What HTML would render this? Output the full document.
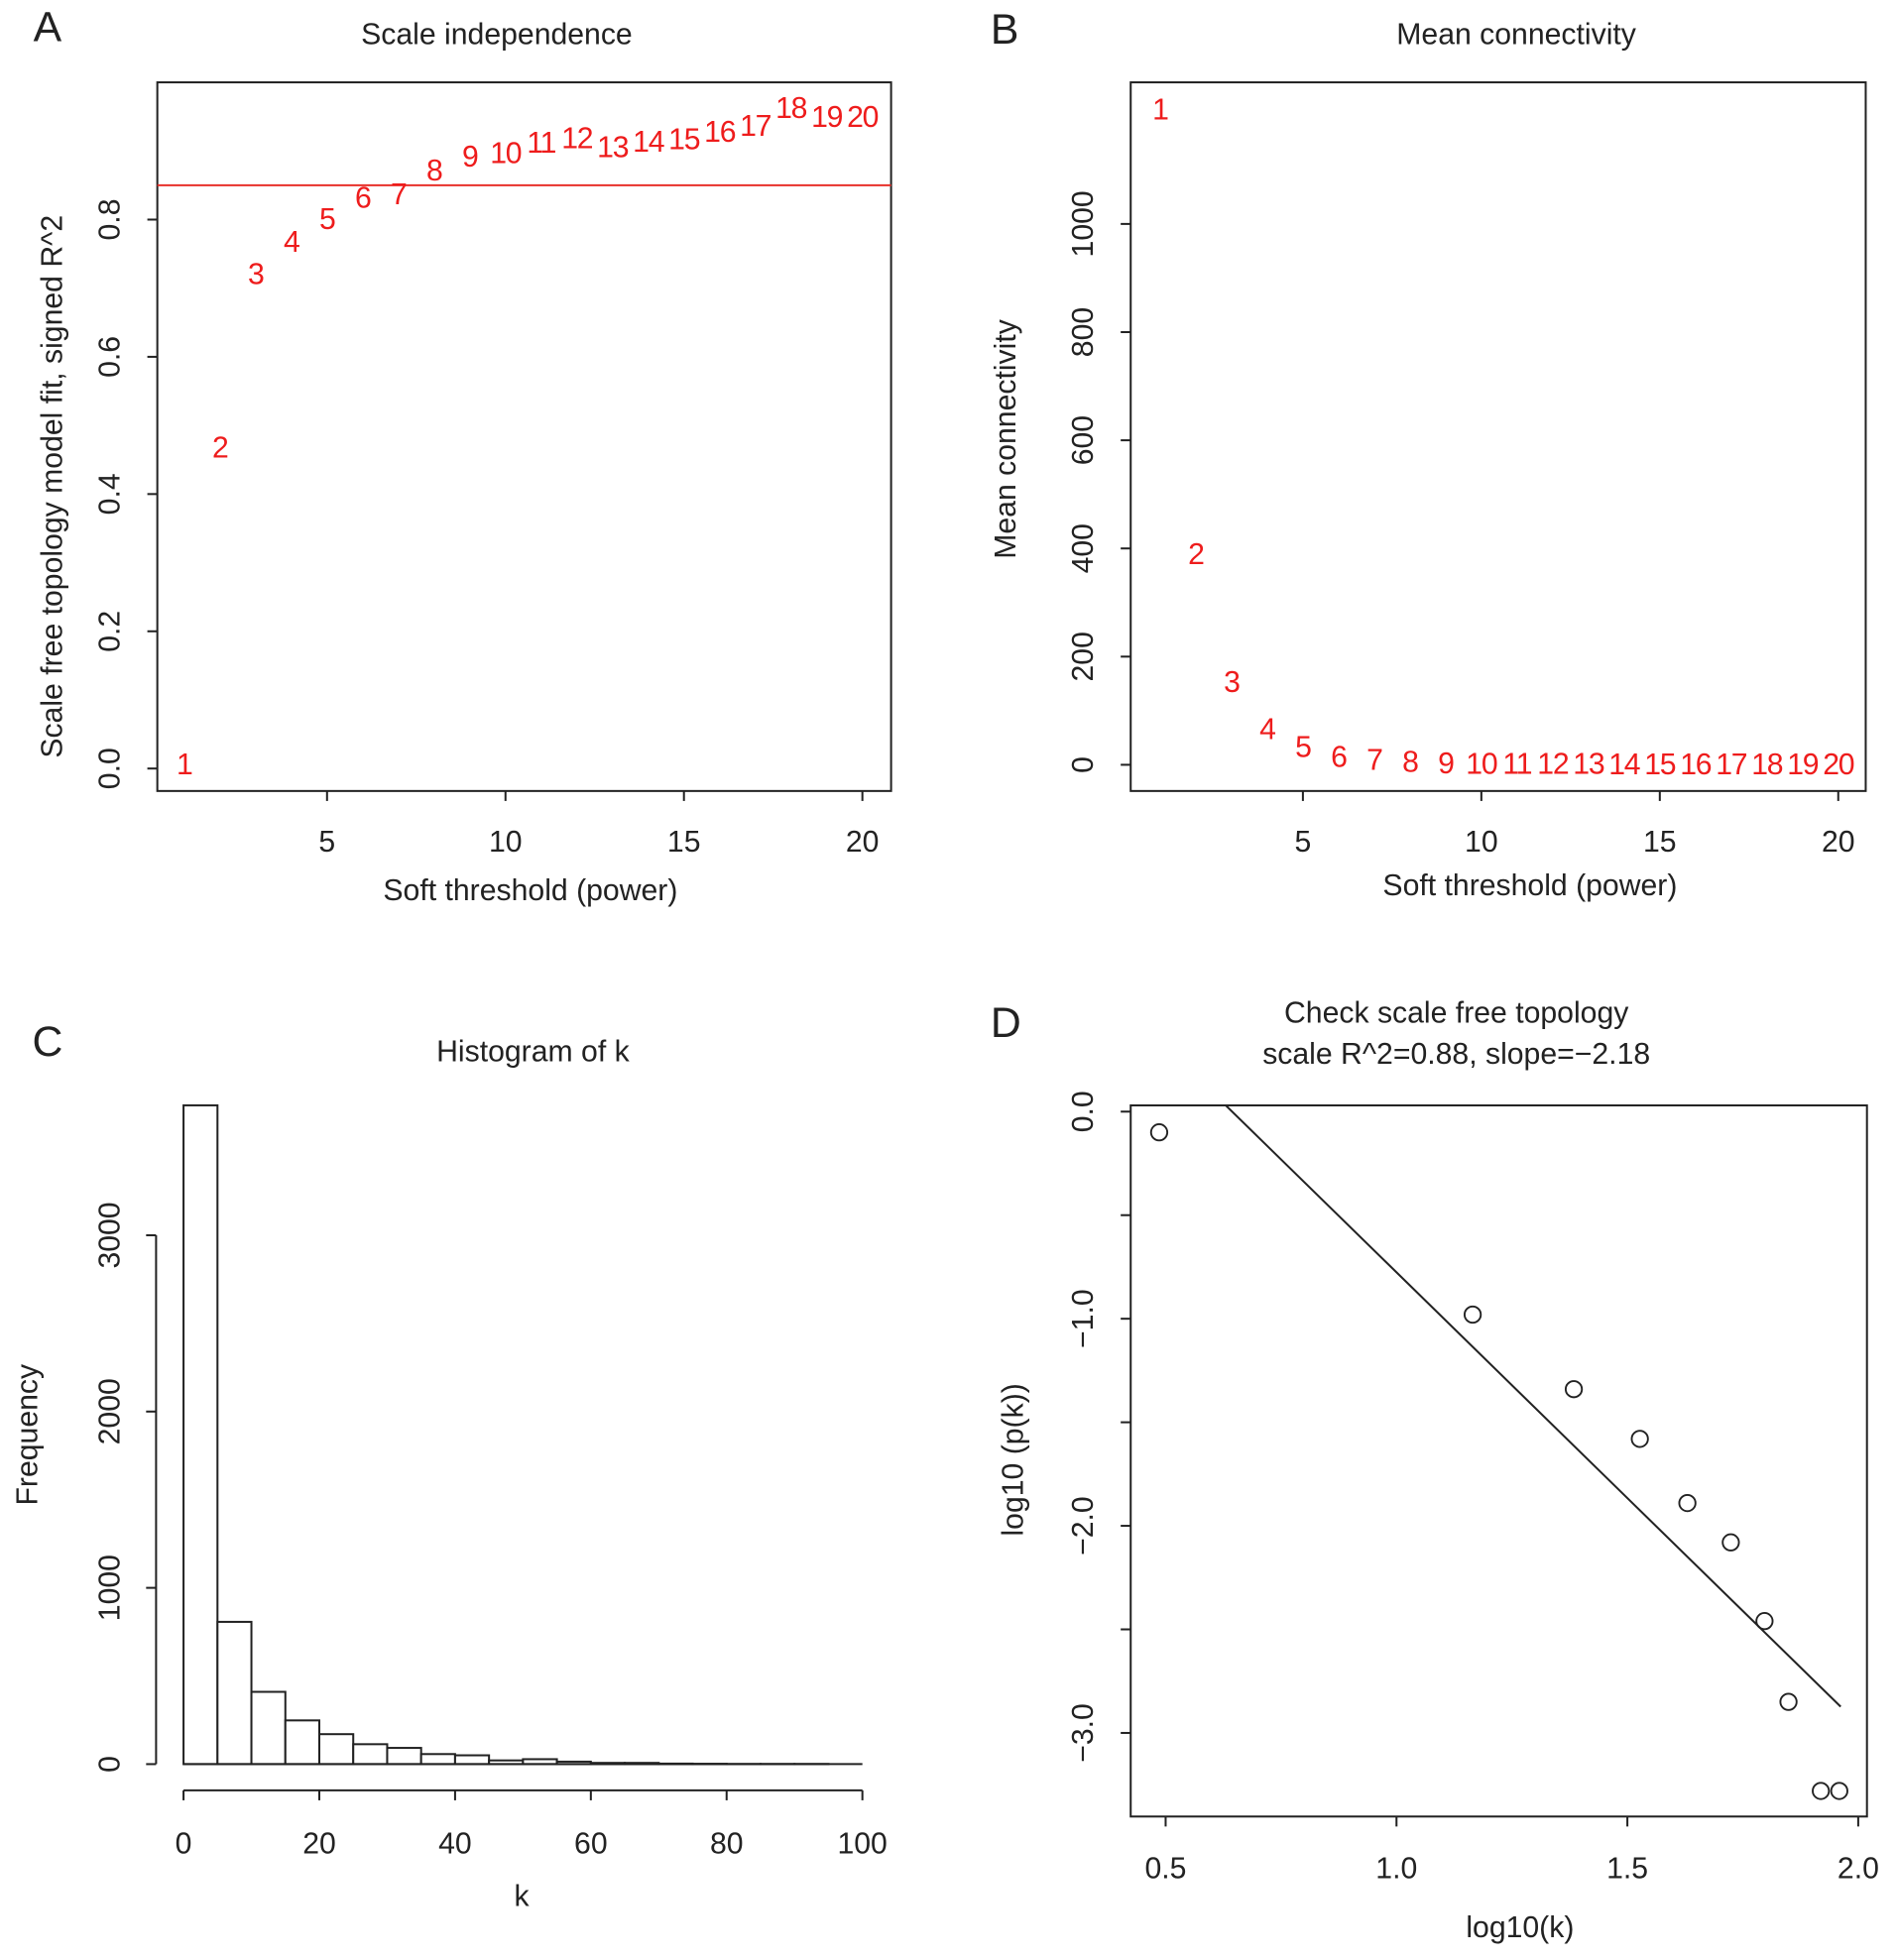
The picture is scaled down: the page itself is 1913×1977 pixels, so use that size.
<!DOCTYPE html>
<html><head><meta charset="utf-8"><style>
html,body{margin:0;padding:0;background:#fff;}
svg{display:block;font-family:"Liberation Sans",Arial,sans-serif;}
</style></head><body>
<svg id="fig" width="1913" height="1977" viewBox="0 0 1520 1571" xmlns="http://www.w3.org/2000/svg"></svg>
<script>
// Panel A data
const powers = [1,2,3,4,5,6,7,8,9,10,11,12,13,14,15,16,17,18,19,20];
const fitR2 = [0.005,0.467,0.72,0.767,0.80,0.831,0.836,0.871,0.891,0.896,0.911,0.918,0.905,0.913,0.916,0.927,0.936,0.962,0.949,0.949];
const fitCut = 0.85;
const aXTicks = [5,10,15,20];
const aYTicks = [0,0.2,0.4,0.6,0.8];
const aYTickLabels = ["0.0","0.2","0.4","0.6","0.8"];
// Panel B data
const meanK = [1211,388,152,65,32,14,8,4,2,1,1,1,1,0,0,0,0,0,0,0];
const bYTicks = [0,200,400,600,800,1000];
// Panel C data
const histBreaks = [0,5,10,15,20,25,30,35,40,45,50,55,60,65,70,75,80,85,90,95,100];
const histCounts = [3737,807,410,248,170,113,92,57,50,21,28,14,7,7,3,2,1,1,1,0];
const cXTicks = [0,20,40,60,80,100];
const cYTicks = [0,1000,2000,3000];
// Panel D data
const logK = [0.486,1.165,1.384,1.527,1.630,1.724,1.797,1.849,1.919,1.959];
const logPk = [-0.10,-0.98,-1.34,-1.58,-1.89,-2.08,-2.46,-2.85,-3.28,-3.28];
const fitIntercept = 1.404;
const fitSlope = -2.18;
const dXTicks = [0.5,1.0,1.5,2.0];
const dXTickLabels = ["0.5","1.0","1.5","2.0"];
const dYTicks = [0,-0.5,-1,-1.5,-2,-2.5,-3];
const dYTickLabels = ["0.0","","\u22121.0","","\u22122.0","","\u22123.0"];

const NS="http://www.w3.org/2000/svg";
const svg=document.getElementById('fig');
const FS=24;
function mk(tag,attrs,parent){const e=document.createElementNS(NS,tag);for(const k in attrs)e.setAttribute(k,attrs[k]);(parent||svg).appendChild(e);return e;}
function txt(s,x,y,size,opts,parent){opts=opts||{};const t=mk('text',{x:x,y:y,'font-size':size,'text-anchor':opts.anchor||'middle','dominant-baseline':'central',fill:opts.fill||'#222'},parent);if(opts.ls)t.setAttribute('letter-spacing',opts.ls);if(opts.rot)t.setAttribute('transform','rotate(-90 '+x+' '+y+')');t.textContent=s;return t;}
function line(x1,y1,x2,y2,parent,col,w){return mk('line',{x1:x1,y1:y1,x2:x2,y2:y2,stroke:col||'#222','stroke-width':w||1.6},parent);}

// ---------- Panel A ----------
const gA=mk('g',{});


const ax=v=>262+(v-5)*28.6, ay=v=>616-550*v;
let e=mk('rect',{x:126,y:66,width:588,height:568,fill:'none',stroke:'#222','stroke-width':1.6},gA);

e=txt('A',38,22,34,{},gA);
e=txt('Scale independence',398,28,FS,{},gA);
e=txt('Soft threshold (power)',425,714,FS,{},gA);
e=txt('Scale free topology model fit, signed R^2',42,390,FS,{rot:1},gA);
aXTicks.forEach(v=>{line(ax(v),634,ax(v),642,gA);e=txt(String(v),ax(v),675,FS,{},gA);});
aYTicks.forEach((v,i)=>{line(118,ay(v),126,ay(v),gA);e=txt(aYTickLabels[i],88,ay(v),FS,{rot:1},gA);});
e=line(126,ay(fitCut),714,ay(fitCut),gA,'#e8302a',1.6);
powers.forEach((p,i)=>{e=txt(String(p),ax(p),ay(fitR2[i]),FS,{fill:'#ee1c1c',ls:-1},gA);});

// ---------- Panel B ----------
const gB=mk('g',{});


const bx=v=>1044+(v-5)*28.6, by=v=>613-0.4335*v;
e=mk('rect',{x:906,y:66,width:589,height:568,fill:'none',stroke:'#222','stroke-width':1.6},gB);

e=txt('B',805,24,34,{},gB);
e=txt('Mean connectivity',1215,28,FS,{},gB);
e=txt('Soft threshold (power)',1226,710,FS,{},gB);
e=txt('Mean connectivity',806,352,FS,{rot:1},gB);
aXTicks.forEach(v=>{line(bx(v),634,bx(v),642,gB);e=txt(String(v),bx(v),675,FS,{},gB);});
bYTicks.forEach(v=>{line(898,by(v),906,by(v),gB);e=txt(String(v),868,by(v),FS,{rot:1},gB);});
powers.forEach((p,i)=>{e=txt(String(p),bx(p),by(meanK[i]),FS,{fill:'#ee1c1c',ls:-1},gB);});

// ---------- Panel C ----------
const gC=mk('g',{});


const cx=v=>147+v*5.44, cy=v=>1414-v*0.1413;
e=txt('C',38,835,34,{},gC);
e=txt('Histogram of k',427,843,FS,{},gC);
e=txt('k',418,1520,FS,{},gC);
e=txt('Frequency',22,1150,FS,{rot:1},gC);
histCounts.forEach((c,i)=>{e=mk('rect',{x:cx(histBreaks[i]),y:cy(c),width:cx(histBreaks[i+1])-cx(histBreaks[i]),height:1414-cy(c),fill:'#fff',stroke:'#222','stroke-width':1.6},gC);});
e=line(cx(histBreaks[0]),1414,cx(histBreaks[histBreaks.length-1]),1414,gC);
line(cx(cXTicks[0]),1435,cx(cXTicks[cXTicks.length-1]),1435,gC);
cXTicks.forEach(v=>{line(cx(v),1435,cx(v),1443,gC);e=txt(String(v),cx(v),1478,FS,{},gC);});
line(125,cy(cYTicks[0]),125,cy(cYTicks[cYTicks.length-1]),gC);
cYTicks.forEach(v=>{line(117,cy(v),125,cy(v),gC);e=txt(String(v),88,cy(v),FS,{rot:1},gC);});

// ---------- Panel D ----------
const gD=mk('g',{});


const dx=v=>934+(v-0.5)*370, dy=v=>891-v*166;
mk('clipPath',{id:'clipD'},gD).appendChild(document.createElementNS(NS,'rect'));
const cr=gD.querySelector('#clipD rect');cr.setAttribute('x',906);cr.setAttribute('y',886);cr.setAttribute('width',590);cr.setAttribute('height',570);
e=mk('rect',{x:906,y:886,width:590,height:570,fill:'none',stroke:'#222','stroke-width':1.6},gD);

e=txt('D',806,820,34,{},gD);
e=txt('Check scale free topology',1167,812,FS,{},gD);
e=txt('scale R^2=0.88, slope=\u22122.18',1167,845,FS,{},gD);
e=txt('log10(k)',1218,1545,FS,{},gD);
e=txt('log10 (p(k))',812,1170,FS,{rot:1},gD);
dXTicks.forEach((v,i)=>{line(dx(v),1456,dx(v),1464,gD);e=txt(dXTickLabels[i],dx(v),1498,FS,{},gD);});
dYTicks.forEach((v,i)=>{line(898,dy(v),906,dy(v),gD);if(dYTickLabels[i]){e=txt(dYTickLabels[i],868,dy(v),FS,{rot:1},gD);}});
const fx1=0.3, fx2=logK[logK.length-1]+0.003;
e=line(dx(fx1),dy(fitIntercept+fitSlope*fx1),dx(fx2),dy(fitIntercept+fitSlope*fx2),gD,'#222',1.6);
e.setAttribute('clip-path','url(#clipD)');

logK.forEach((v,i)=>{e=mk('circle',{cx:dx(v),cy:dy(logPk[i]),r:6.5,fill:'none',stroke:'#222','stroke-width':1.5},gD);});
</script>
</body></html>
